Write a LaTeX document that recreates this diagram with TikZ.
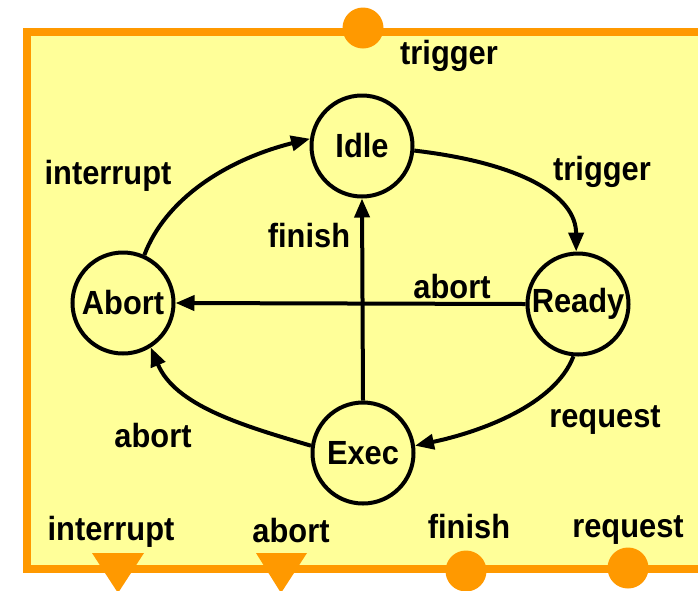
\documentclass[tikz,border=0pt]{standalone}
\usepackage{fontspec}
\setmainfont{Liberation Sans}[FakeStretch=0.92]
\usetikzlibrary{arrows.meta}
\definecolor{paneyellow}{RGB}{255,255,153}
\definecolor{portorange}{RGB}{255,153,0}
\begin{document}
\begin{tikzpicture}[x=1pt,y=-1pt,
  every node/.style={font=\fontsize{33.5}{33.5}\selectfont\bfseries, inner sep=0pt},
  state/.style={circle, draw=black, line width=4pt, fill=paneyellow, minimum size=101pt},
  lbl/.style={},
  port/.style={circle, fill=portorange, minimum size=41pt},
  trans/.style={line width=4pt, -{Triangle[length=19pt,width=15pt]}}]
\useasboundingbox (0,0) rectangle (698,590);
% component frame
\draw[portorange, line width=7.5pt, fill=paneyellow] (27,32) rectangle (730,569);
% ports on the frame
\node[port] (pTrigger) at (363,28) {};
\fill[portorange] (92,553) -- (144,553) -- (118,593) -- cycle;
\fill[portorange] (256,553) -- (307,553) -- (281,593) -- cycle;
\node[port] (pFinish) at (466,571) {};
\node[port] (pRequest) at (628,568) {};
% port labels
\node[lbl] (lTrigger) at (449,56) {trigger};
\node[lbl] (lInterrupt) at (111,532) {interrupt};
\node[lbl] (lAbortP) at (291,531) {abort};
\node[lbl] (lFinish) at (469,527) {finish};
\node[lbl] (lRequest) at (628,530) {request};
% states
\node[state] (idle) at (362,146) {Idle};
\node[state] (abort) at (123,303) {Abort};
\node[state] (ready) at (578,304) {Ready};
\node[state] (exec) at (363,453) {Exec};
% transitions
\draw[trans] (idle.-5) .. controls (520,163) and (576,195) .. (ready.92);
\draw[trans] (abort.66) .. controls (165,200) and (225,160) .. (idle.172);
\draw[trans] (exec.north) -- (idle.south);
\draw[trans] (ready.west) -- (abort.east);
\draw[trans] (ready.-95) .. controls (555,405) and (480,432) .. (exec.8);
\draw[trans] (exec.172) .. controls (240,425) and (175,405) .. (abort.-58);
% transition labels
\node[lbl] at (108,176) {interrupt};
\node[lbl] at (602,172) {trigger};
\node[lbl] at (309,236) {finish};
\node[lbl] at (452,287) {abort};
\node[lbl] at (153,436) {abort};
\node[lbl] at (605,420) {request};
\end{tikzpicture}
\end{document}
